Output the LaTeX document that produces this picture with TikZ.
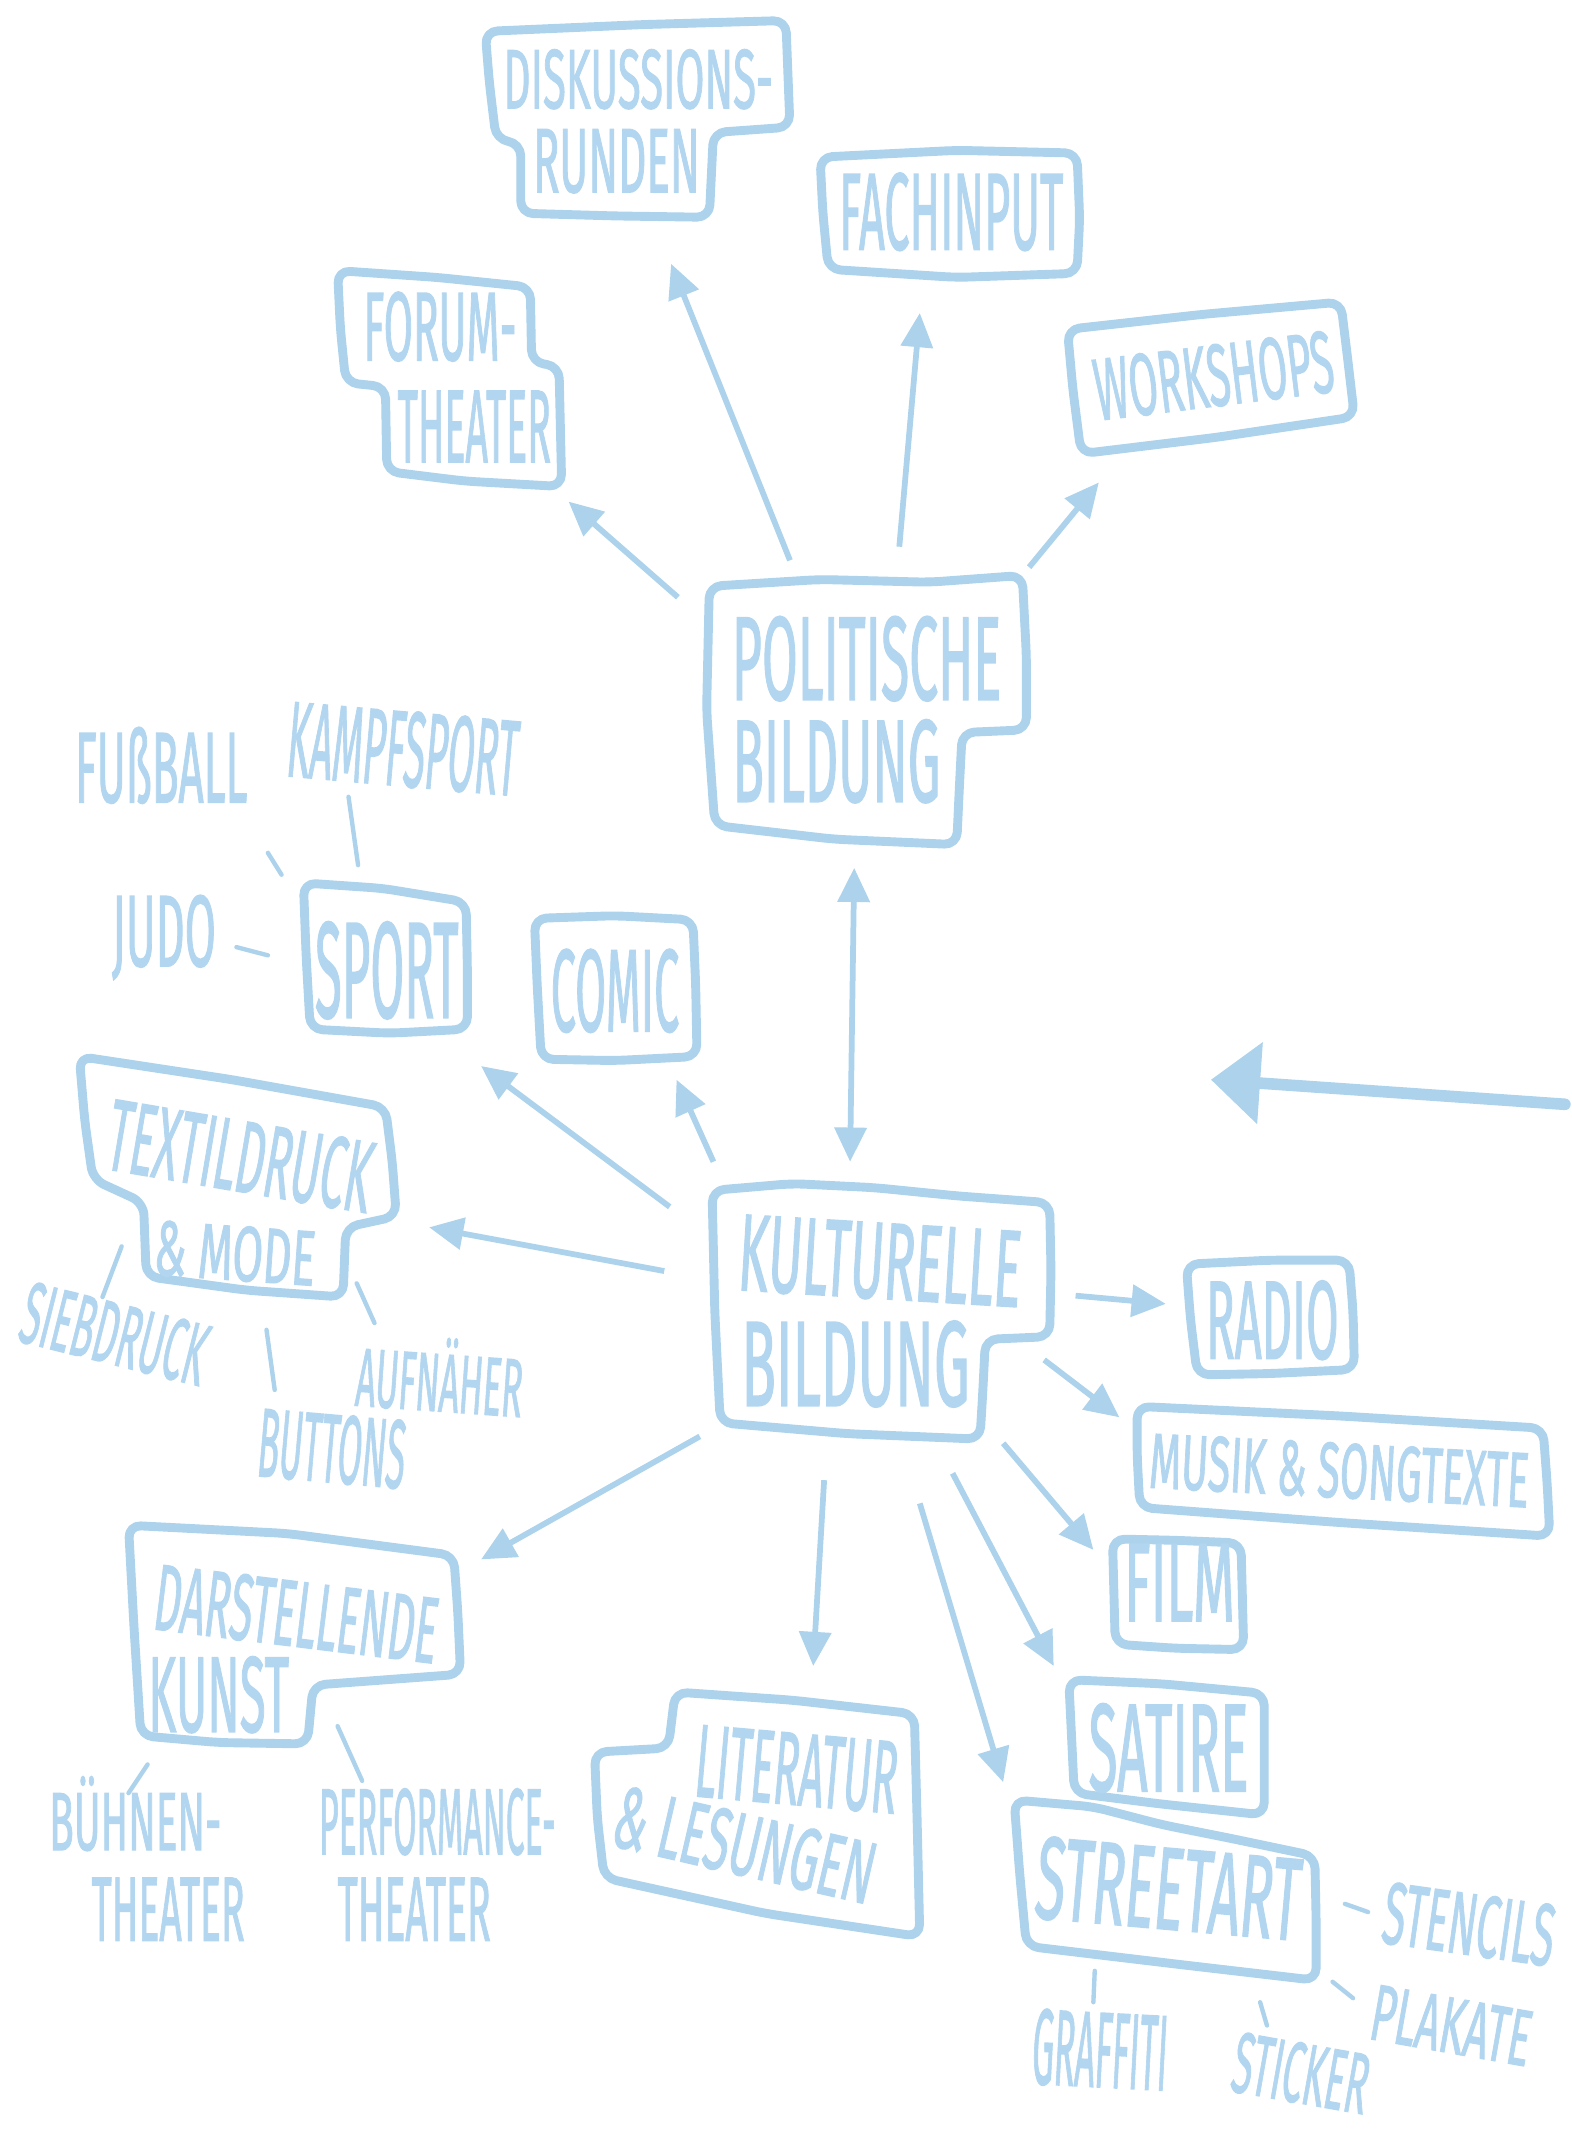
\documentclass[tikz,border=0pt]{standalone}
\usepackage{fontspec}
\setmainfont{Fira Sans}[FakeBold=1.6]
\usepackage{graphicx}
\usetikzlibrary{arrows.meta}
\definecolor{inkline}{RGB}{172,210,236}
\definecolor{inktext}{RGB}{178,214,239}
% hand lettering: text squeezed into a given width and cap height
\newcommand\hand[3]{\resizebox{#1pt}{#2pt}{#3}}
\begin{document}
\begin{tikzpicture}[x=1pt,y=-1pt,
  outline/.style={draw=inkline,line width=6.5pt,rounded corners=9pt,line join=round},
  area/.style={inner sep=0pt,draw=none},
  word/.style={inner sep=0pt,text=inktext},
  arr/.style={draw=inkline,line width=4.2pt,-{Triangle[length=25pt,width=23pt]}},
  leaf/.style={draw=inkline,line width=3.2pt,line cap=round}]
\fill[white] (0,0) rectangle (1150,1568);
\useasboundingbox (0,0) rectangle (1150,1568);

% ---------- box areas ----------
\node[area,minimum width=236pt,minimum height=200pt] (pol)    at (634,520)  {};
\node[area,minimum width=249pt,minimum height=188pt] (kb)     at (645,962)  {};
\node[area,minimum width=223pt,minimum height=145pt] (disk)   at (466,88)   {};
\node[area,minimum width=191pt,minimum height=93pt]  (fach)   at (694,156)  {};
\node[area,minimum width=165pt,minimum height=158pt] (forum)  at (330,277)  {};
\node[area,minimum width=210pt,minimum height=111pt] (work)   at (886,276)  {};
\node[area,minimum width=120pt,minimum height=107pt] (sport)  at (282,700)  {};
\node[area,minimum width=119pt,minimum height=103pt] (comic)  at (450,723)  {};
\node[area,minimum width=232pt,minimum height=176pt] (textil) at (174,861)  {};
\node[area,minimum width=243pt,minimum height=160pt] (darst)  at (215,1196) {};
\node[area,minimum width=238pt,minimum height=179pt] (lit)    at (554,1327) {};
\node[area,minimum width=123pt,minimum height=84pt]  (radio)  at (930,964)  {};
\node[area,minimum width=302pt,minimum height=95pt]  (musik)  at (983,1076) {};
\node[area,minimum width=96pt,minimum height=81pt]   (film)   at (862,1166) {};
\node[area,minimum width=143pt,minimum height=99pt]  (satire) at (853,1278) {};
\node[area,minimum width=221pt,minimum height=132pt] (street) at (852,1383) {};

% ---------- hand-drawn box outlines ----------
\draw[outline] (519,429) -- (600,424) -- (680,426) -- (748,421) -- (751,480) -- (751,534)
  -- (704,536) -- (702,575) -- (700,618) -- (610,614) -- (523,604) -- (517,520) -- cycle;
\draw[outline] (521,871) -- (580,866) -- (640,869) -- (700,875) -- (768,880) -- (769,930)
  -- (768,978) -- (721,980) -- (719,1020) -- (717,1053) -- (620,1049) -- (527,1041) -- (523,960) -- cycle;
\draw[outline] (355,23) -- (470,18) -- (575,15) -- (578,93) -- (522,97) -- (519,159)
  -- (450,158) -- (381,156) -- (381,105) -- (363,102) -- (358,60) -- cycle;
\draw[outline] (600,115) -- (700,110) -- (788,112) -- (790,160) -- (788,200) -- (700,203)
  -- (606,197) -- (602,155) -- cycle;
\draw[outline] (247,198) -- (320,203) -- (388,210) -- (389,265) -- (409,268) -- (411,356)
  -- (340,352) -- (283,345) -- (282,283) -- (253,280) -- (249,240) -- cycle;
\draw[outline] (781,241) -- (880,230) -- (981,221) -- (986,262) -- (991,305) -- (890,320)
  -- (791,332) -- (785,285) -- cycle;
\draw[outline] (222,646) -- (280,650) -- (341,660) -- (342,710) -- (342,753) -- (285,756)
  -- (227,753) -- (224,700) -- cycle;
\draw[outline] (391,672) -- (450,670) -- (507,673) -- (509,720) -- (510,773) -- (450,776)
  -- (396,775) -- (393,720) -- cycle;
\draw[outline] (58,773) -- (170,790) -- (282,810) -- (287,850) -- (290,890) -- (253,898)
  -- (251,949) -- (180,944) -- (107,934) -- (105,880) -- (68,863) -- (62,820) -- cycle;
\draw[outline] (94,1116) -- (210,1122) -- (332,1138) -- (335,1180) -- (337,1225) -- (229,1233)
  -- (225,1276) -- (160,1275) -- (103,1270) -- (98,1190) -- cycle;
\draw[outline] (494,1238) -- (580,1244) -- (669,1254) -- (671,1330) -- (673,1417) -- (560,1400)
  -- (442,1374) -- (437,1330) -- (435,1282) -- (489,1279) -- cycle;
\draw[outline] (868,925) -- (930,922) -- (987,922) -- (990,960) -- (991,1002) -- (930,1005)
  -- (876,1006) -- (871,965) -- cycle;
\draw[outline] (832,1029) -- (980,1036) -- (1129,1045) -- (1132,1085) -- (1134,1124) -- (980,1114)
  -- (834,1103) -- (832,1065) -- cycle;
\draw[outline] (814,1126) -- (860,1127) -- (908,1129) -- (909,1168) -- (910,1207) -- (860,1206)
  -- (816,1203) -- (815,1165) -- cycle;
\draw[outline] (782,1229) -- (850,1232) -- (925,1239) -- (925,1285) -- (925,1328) -- (850,1320)
  -- (786,1312) -- (784,1270) -- cycle;
\draw[outline] (742,1317) -- (800,1322) -- (850,1335) -- (900,1345) -- (962,1358) -- (963,1405)
  -- (963,1449) -- (860,1437) -- (751,1424) -- (746,1370) -- cycle;

% ---------- box lettering ----------
\node[word] (pol1) at (634,482) {\hand{197}{61}{POLITISCHE}};
\node[word] (pol2) at (612,557) {\hand{152}{60}{BILDUNG}};
\node[word,rotate=-3.5] (kb1) at (644,923) {\hand{207}{55}{KULTURELLE}};
\node[word] (kb2) at (626,998) {\hand{167}{62}{BILDUNG}};
\node[word] (disk1) at (467,58) {\hand{197}{43}{DISKUSSIONS-}};
\node[word] (disk2) at (451,118) {\hand{122}{46}{RUNDEN}};
\node[word] (fach1) at (696,155) {\hand{164}{56}{FACHINPUT}};
\node[word] (forum1) at (322,239) {\hand{112}{50}{FORUM-}};
\node[word] (forum2) at (347,312) {\hand{112}{52}{THEATER}};
\node[word,rotate=7] (work1) at (888,275) {\hand{176}{45}{WORKSHOPS}};
\node[word] (sport1) at (283,710) {\hand{105}{70}{SPORT}};
\node[word] (comic1) at (450,725) {\hand{94}{60}{COMIC}};
\node[word,rotate=-9.6] (textil1) at (176,846) {\hand{195}{52}{TEXTILDRUCK}};
\node[word,rotate=-4] (textil2) at (172,917) {\hand{118}{40}{\& MODE}};
\node[word,rotate=-7] (darst1) at (217,1181) {\hand{208}{48}{DARSTELLENDE}};
\node[word] (darst2) at (160,1240) {\hand{103}{55}{KUNST}};
\node[word,rotate=-5] (lit1) at (583,1295) {\hand{148}{52}{LITERATUR}};
\node[word,rotate=-13] (lit2) at (545,1350) {\hand{194}{45}{\& LESUNGEN}};
\node[word] (radio1) at (931,966) {\hand{97}{57}{RADIO}};
\node[word,rotate=-3] (musik1) at (980,1076) {\hand{278}{40}{MUSIK \& SONGTEXTE}};
\node[word] (film1) at (863,1158) {\hand{81}{56}{FILM}};
\node[word] (satire1) at (855,1279) {\hand{117}{64}{SATIRE}};
\node[word,rotate=-5] (street1) at (855,1382) {\hand{194}{60}{STREETART}};

% ---------- free labels ----------
\node[word] (fuss) at (118,560) {\hand{126}{55}{FUßBALL}};
\node[word,rotate=-5] (kampf) at (295,548) {\hand{169}{55}{KAMPFSPORT}};
\node[word] (judo) at (120,686) {\hand{76}{52}{JUDO}};
\node[word,rotate=-14] (sieb) at (84,976) {\hand{138}{45}{SIEBDRUCK}};
\node[word,rotate=-5] (buttons) at (243,1060) {\hand{108}{50}{BUTTONS}};
\node[word,rotate=-4] (aufn) at (322,1006) {\hand{122}{54}{AUFNÄHER}};
\node[word] (buehnen) at (99,1327) {\hand{126}{54}{BÜHNEN-}};
\node[word] (th1) at (123,1397) {\hand{112}{46}{THEATER}};
\node[word] (perf) at (320,1333) {\hand{173}{48}{PERFORMANCE-}};
\node[word] (th2) at (303,1397) {\hand{112}{46}{THEATER}};
\node[word,rotate=-8] (stencils) at (1075,1408) {\hand{126}{45}{STENCILS}};
\node[word,rotate=-10] (plakate) at (1062,1482) {\hand{118}{40}{PLAKATE}};
\node[word,rotate=-3] (graffiti) at (805,1500) {\hand{99}{55}{GRAFFITI}};
\node[word,rotate=-10] (sticker) at (952,1517) {\hand{100}{44}{STICKER}};

% ---------- arrows from Politische Bildung ----------
\draw[arr] ([shift={(-138,-83)}]pol.center) -- ([shift={(86,90)}]forum.center);
\draw[arr] ([shift={(-56,-110)}]pol.center) -- ([shift={(25,105)}]disk.center);
\draw[arr] ([shift={(24,-120)}]pol.center) -- ([shift={(-21,73)}]fach.center);
\draw[arr] ([shift={(119,-105)}]pol.center) -- ([shift={(-82,77)}]work.center);
\draw[arr,{Triangle[length=25pt,width=23pt]}-{Triangle[length=25pt,width=23pt]}]
  ([shift={(-9,115)}]pol.center) -- ([shift={(-23,-112)}]kb.center);

% ---------- arrows from Kulturelle Bildung ----------
\draw[arr] ([shift={(-155,-79)}]kb.center) -- ([shift={(70,80)}]sport.center);
\draw[arr] ([shift={(-123,-112)}]kb.center) -- ([shift={(45,67)}]comic.center);
\draw[arr] ([shift={(-159,-32)}]kb.center) -- ([shift={(140,37)}]textil.center);
\draw[arr] ([shift={(-133,89)}]kb.center) -- ([shift={(137,-55)}]darst.center);
\draw[arr] ([shift={(-42,121)}]kb.center) -- ([shift={(41,-108)}]lit.center);
\draw[arr] ([shift={(28,138)}]kb.center) -- ([shift={(-118,-79)}]street.center);
\draw[arr] ([shift={(52,116)}]kb.center) -- ([shift={(-82,-59)}]satire.center);
\draw[arr] ([shift={(89,94)}]kb.center) -- ([shift={(-62,-32)}]film.center);
\draw[arr] ([shift={(119,33)}]kb.center) -- ([shift={(-164,-39)}]musik.center);
\draw[arr] ([shift={(142,-14)}]kb.center) -- ([shift={(-77,-10)}]radio.center);

% ---------- leaf strokes ----------
\draw[leaf] ([shift={(-20,-67)}]sport.center) -- ([shift={(-40,35)}]kampf.center);
\draw[leaf] ([shift={(-76,-60)}]sport.center) -- ([shift={(78,64)}]fuss.center);
\draw[leaf] ([shift={(-86,-1)}]sport.center) -- ([shift={(53,7)}]judo.center);
\draw[leaf] ([shift={(-85,51)}]textil.center) -- ([shift={(-9,-27)}]sieb.center);
\draw[leaf] ([shift={(21,112)}]textil.center) -- ([shift={(-42,-43)}]buttons.center);
\draw[leaf] ([shift={(87,78)}]textil.center) -- ([shift={(-48,-38)}]aufn.center);
\draw[leaf] ([shift={(-107,95)}]darst.center) -- ([shift={(-5,-15)}]buehnen.center);
\draw[leaf] ([shift={(32,67)}]darst.center) -- ([shift={(-55,-30)}]perf.center);
\draw[leaf] ([shift={(132,10)}]street.center) -- ([shift={(-74,-9)}]stencils.center);
\draw[leaf] ([shift={(123,67)}]street.center) -- ([shift={(-72,-20)}]plakate.center);
\draw[leaf] ([shift={(-51,59)}]street.center) -- ([shift={(-5,-35)}]graffiti.center);
\draw[leaf] ([shift={(70,82)}]street.center) -- ([shift={(-25,-35)}]sticker.center);

% ---------- large arrow on the right ----------
\coordinate (bigtail) at (1145,808);
\coordinate (bighead) at (886,790);
\draw[draw=inkline,line width=8.5pt,line cap=round,-{Triangle[length=36pt,width=58pt]}] (bigtail) -- (bighead);
\end{tikzpicture}
\end{document}
